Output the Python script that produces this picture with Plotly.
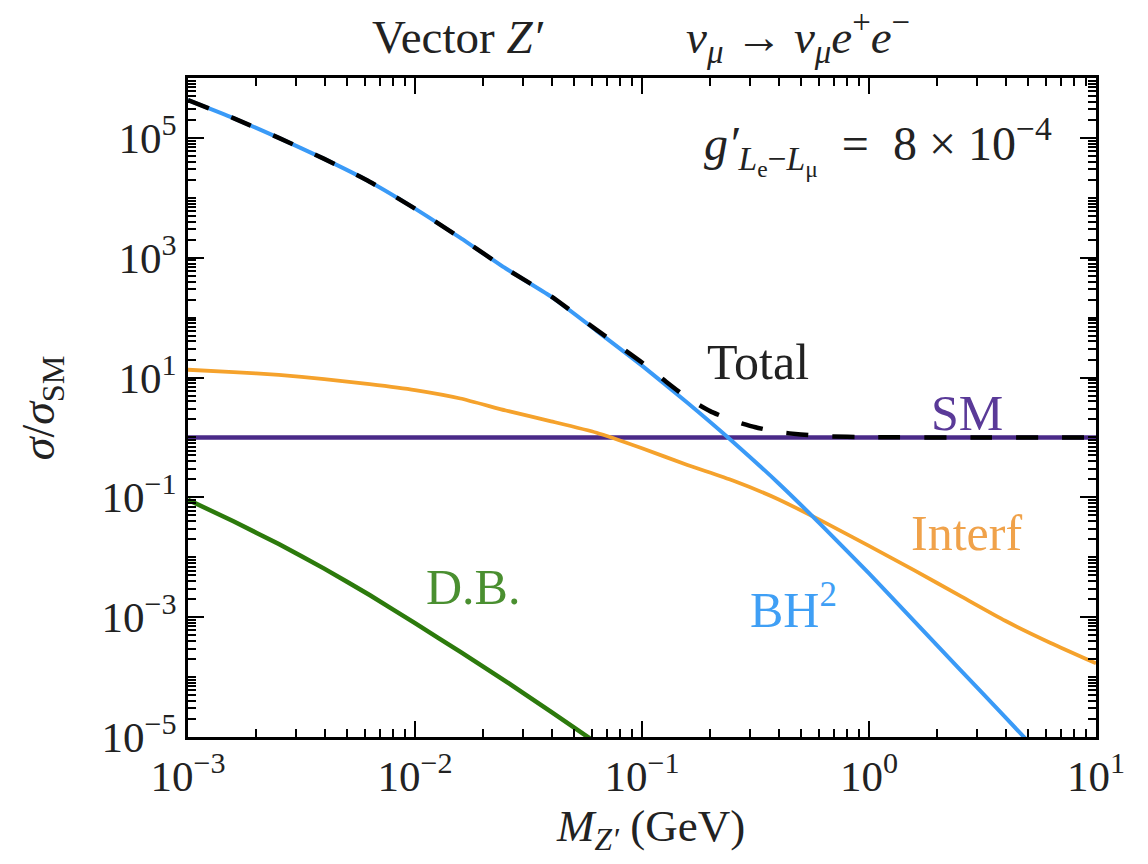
import plotly.graph_objects as go

# ---------------- data ----------------
# Z' mass in GeV
mass_bh2 = [1e-3, 1.585e-3, 2.512e-3, 3.981e-3, 6.31e-3, 1e-2, 1.585e-2, 2.512e-2,
            3.981e-2, 6.31e-2, 0.1, 0.1585, 0.2512, 0.3981, 0.631, 1.0, 1.585,
            2.512, 3.981, 5.012]
bh2 = [4.27e5, 2.14e5, 1.0e5, 4.47e4, 1.86e4, 6.61e3, 2.14e3, 661, 224, 60.3,
       15.8, 3.80, 0.851, 0.174, 0.0316, 5.37e-3, 8.51e-4, 1.35e-4, 2.14e-5, 8.51e-6]

mass_total = [1e-3, 1.585e-3, 2.512e-3, 3.981e-3, 6.31e-3, 1e-2, 1.585e-2, 2.512e-2,
              3.981e-2, 6.31e-2, 0.1, 0.1259, 0.1585, 0.1995, 0.2512, 0.3162,
              0.3981, 0.5012, 0.631, 1.0, 3.162, 10.0]
total = [4.27e5, 2.14e5, 1.0e5, 4.47e4, 1.86e4, 6.61e3, 2.14e3, 662, 226, 62.5,
         17.8, 8.9, 4.57, 2.75, 1.91, 1.48, 1.23, 1.12, 1.05, 1.01, 1.0, 1.0]

mass_interf = [1e-3, 1.585e-3, 2.512e-3, 3.981e-3, 6.31e-3, 1e-2, 1.585e-2, 2.512e-2,
               3.981e-2, 6.31e-2, 0.1, 0.1585, 0.2512, 0.3981, 0.631, 1.0, 1.585,
               2.512, 3.981, 6.31, 10.0]
interf = [13.5, 12.3, 11.1, 9.44, 7.76, 6.17, 4.47, 2.82, 1.86, 1.20, 0.661, 0.347,
          0.191, 0.0933, 0.0389, 0.0155, 6.03e-3, 2.29e-3, 8.71e-4, 3.72e-4, 1.70e-4]

mass_db = [1e-3, 1.585e-3, 2.512e-3, 3.981e-3, 6.31e-3, 1e-2, 1.585e-2, 2.512e-2,
           3.981e-2, 6.31e-2]
db = [0.0912, 0.0398, 0.0166, 6.46e-3, 2.34e-3, 7.94e-4, 2.63e-4, 8.51e-5,
      2.63e-5, 7.94e-6]

mass_sm = [1e-3, 10.0]
sm = [1.0, 1.0]

x_tick_vals = [1e-3, 1e-2, 1e-1, 1, 10]
x_tick_text = ["10<sup>−3</sup>", "10<sup>−2</sup>", "10<sup>−1</sup>",
               "10<sup>0</sup>", "10<sup>1</sup>"]
y_tick_vals = [1e-5, 1e-3, 1e-1, 1e1, 1e3, 1e5]
y_tick_text = ["10<sup>−5</sup>", "10<sup>−3</sup>", "10<sup>−1</sup>",
               "10<sup>1</sup>", "10<sup>3</sup>", "10<sup>5</sup>"]

# ---------------- styling ----------------
BLUE = "#3a9af7"
ORANGE = "#f5a22c"
GREEN = "#2c7a0c"
PURPLE = "#4a2a88"
FONT = "Liberation Serif"
TXT = "#222222"

x_minor = [k * 10.0 ** n for n in range(-3, 1) for k in range(2, 10)]
y_minor = [k * 10.0 ** n for n in range(-5, 6) for k in range(1, 10)
           if not (k == 1 and n % 2 != 0)]

fig = go.Figure()
fig.add_trace(go.Scatter(x=mass_sm, y=sm, mode="lines",
                         line=dict(color=PURPLE, width=4.5)))
fig.add_trace(go.Scatter(x=mass_db, y=db, mode="lines",
                         line=dict(color=GREEN, width=4.5, shape="spline", smoothing=0.5)))
fig.add_trace(go.Scatter(x=mass_interf, y=interf, mode="lines",
                         line=dict(color=ORANGE, width=3.8, shape="spline", smoothing=0.5)))
fig.add_trace(go.Scatter(x=mass_bh2, y=bh2, mode="lines",
                         line=dict(color=BLUE, width=4, shape="spline", smoothing=0.5)))
fig.add_trace(go.Scatter(x=mass_total, y=total, mode="lines",
                         line=dict(color="black", width=4.5, dash="22px,24px",
                                   shape="spline", smoothing=0.5)))

axis_common = dict(
    type="log", showgrid=False, zeroline=False,
    ticks="inside", ticklen=16, tickwidth=2, tickcolor="black",
    showline=True, linewidth=2.5, linecolor="black", mirror="ticks",
    tickfont=dict(family=FONT, size=43, color=TXT),
)

fig.update_xaxes(
    **axis_common, range=[-3, 1],
    tickmode="array", tickvals=x_tick_vals, ticktext=x_tick_text,
    minor=dict(tickmode="array", tickvals=x_minor, ticks="inside", ticklen=8,
               tickwidth=1.5, tickcolor="black", showgrid=False),
)
fig.update_yaxes(
    **axis_common, range=[-5, 6],
    tickmode="array", tickvals=y_tick_vals, ticktext=y_tick_text,
    minor=dict(tickmode="array", tickvals=y_minor, ticks="inside", ticklen=8,
               tickwidth=1.5, tickcolor="black", showgrid=False),
)

annotations = [
    # axis titles
    dict(text="<i>M</i><sub><i>Z′</i></sub> (GeV)", x=0.509, y=-0.139,
         xref="paper", yref="paper", font=dict(size=45, color=TXT)),
    dict(text="<i>σ</i>/<i>σ</i><sub>SM</sub>", x=-0.161, y=0.5, textangle=-90,
         xref="paper", yref="paper", font=dict(size=46, color=TXT)),
    # title pieces
    dict(text="Vector <i>Z′</i>", x=0.297, y=1.062, xref="paper", yref="paper",
         font=dict(size=47, color=TXT)),
    dict(text="<i>ν<sub>μ</sub></i> → <i>ν<sub>μ</sub>e</i><sup>+</sup><i>e</i><sup>−</sup>",
         x=0.672, y=1.062, xref="paper", yref="paper", font=dict(size=47, color=TXT)),
    # coupling
    dict(text="<i>g′</i><sub><i>L</i><sub>e</sub>−<i>L</i><sub>μ</sub></sub>  =  8 × 10<sup>−4</sup>",
         x=0.04, y=4.87, xref="x", yref="y", font=dict(size=48, color=TXT)),
    # curve labels
    dict(text="Total", x=-0.49, y=1.265, xref="x", yref="y", font=dict(size=50, color=TXT)),
    dict(text="SM", x=0.43, y=0.404, xref="x", yref="y", font=dict(size=50, color="#5a3a98")),
    dict(text="Interf", x=0.43, y=-1.60, xref="x", yref="y", font=dict(size=50, color="#f0a24a")),
    dict(text="BH<sup>2</sup>", x=-0.333, y=-2.825, xref="x", yref="y",
         font=dict(size=50, color="#3f9ff5")),
    dict(text="D.B.", x=-1.743, y=-2.49, xref="x", yref="y", font=dict(size=50, color="#4a8f30")),
]
for a in annotations:
    a.update(showarrow=False, xanchor="center", yanchor="middle")
    a["font"]["family"] = FONT

fig.update_layout(
    width=1148, height=864,
    margin=dict(l=188, r=52, t=78, b=127),
    paper_bgcolor="white", plot_bgcolor="white",
    showlegend=False,
    font=dict(family=FONT, size=43, color=TXT),
    annotations=annotations,
)

# remove the browser's default 8px page margin so the figure fills the window exactly
fig.write_html("out.html", config={"displayModeBar": False},
               post_script="document.body.style.margin='0px';")
